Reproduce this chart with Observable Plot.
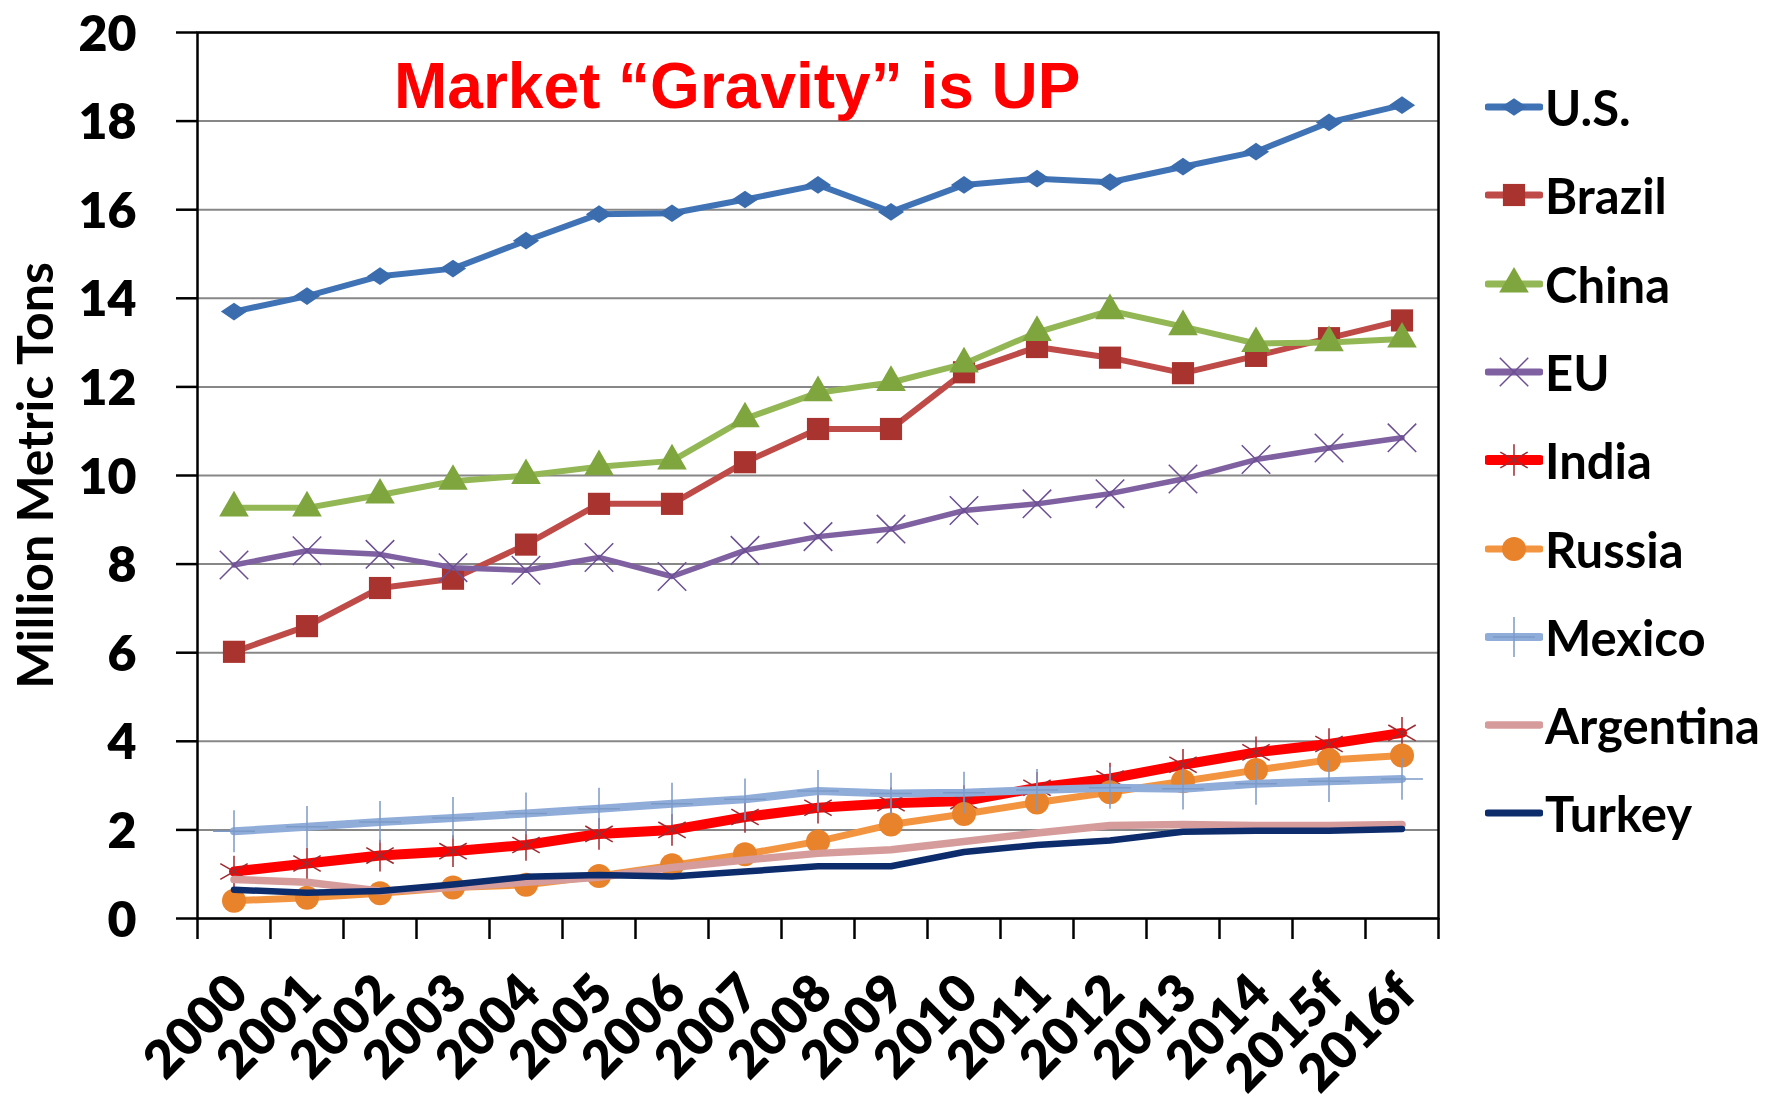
<!DOCTYPE html>
<html><head><meta charset="utf-8">
<script src="https://cdn.jsdelivr.net/npm/d3@7"></script>
<script src="https://cdn.jsdelivr.net/npm/@observablehq/plot@0.6"></script>
<style>
html,body{margin:0;padding:0;background:#fff;}
#wrap{position:relative;width:1777px;height:1103px;overflow:hidden;background:#fff;}
#chart{position:absolute;left:0;top:0;}
#title{position:absolute;left:394px;top:54px;font:bold 64px "Liberation Sans",Arial,sans-serif;color:#ff0000;line-height:64px;white-space:nowrap;}
#legend{position:absolute;left:1485px;top:0;width:292px;height:1103px;}
.row{position:absolute;left:0;display:flex;align-items:center;height:60px;white-space:nowrap;}
.row span{font:700 49px Lato,sans-serif;color:#000;margin-left:2px;}
</style></head>
<body><div id="wrap"><div id="chart"></div><div id="title">Market “Gravity” is UP</div><div id="legend"></div></div>
<script>
// ---- data ----
const years = ["2000","2001","2002","2003","2004","2005","2006","2007","2008","2009","2010","2011","2012","2013","2014","2015f","2016f"];
const seriesNames = ["U.S.","Brazil","China","EU","India","Russia","Mexico","Argentina","Turkey"];
const us        = [13.7,14.05,14.5,14.67,15.3,15.9,15.92,16.23,16.56,15.95,16.56,16.7,16.62,16.97,17.31,17.97,18.36];
const brazil    = [6.02,6.6,7.46,7.67,8.44,9.36,9.36,10.3,11.05,11.05,12.33,12.9,12.66,12.31,12.7,13.1,13.5];
const china     = [9.27,9.27,9.56,9.87,10.0,10.2,10.33,11.28,11.87,12.1,12.52,13.23,13.72,13.36,12.98,13.0,13.08];
const eu        = [7.98,8.3,8.22,7.92,7.86,8.15,7.72,8.31,8.62,8.79,9.21,9.36,9.59,9.92,10.36,10.62,10.85];
const india     = [1.06,1.24,1.42,1.52,1.66,1.91,2.0,2.29,2.5,2.6,2.65,2.95,3.16,3.47,3.75,3.94,4.19];
const russia    = [0.4,0.47,0.57,0.7,0.76,0.96,1.2,1.45,1.74,2.12,2.36,2.62,2.85,3.1,3.35,3.58,3.68];
const mexico    = [1.97,2.07,2.18,2.27,2.37,2.48,2.59,2.69,2.88,2.82,2.84,2.9,2.95,2.93,3.04,3.1,3.15];
const argentina = [0.88,0.82,0.62,0.7,0.82,0.93,1.15,1.32,1.47,1.55,1.74,1.93,2.1,2.12,2.1,2.1,2.12];
const turkey    = [0.65,0.58,0.62,0.77,0.94,0.98,0.95,1.06,1.18,1.18,1.5,1.66,1.76,1.96,1.98,1.98,2.02];
const seriesValues = [us, brazil, china, eu, india, russia, mexico, argentina, turkey];
const yTicks = [0,2,4,6,8,10,12,14,16,18,20];
const yLabel = "Million Metric Tons";

// ---- styles ----
const wideDiamond = {draw(ctx, size){const s=Math.sqrt(size);const w=s*0.74,h=s*0.5;ctx.moveTo(-w,0);ctx.lineTo(0,-h);ctx.lineTo(w,0);ctx.lineTo(0,h);ctx.closePath();}};
const styles = {
  "U.S.":     {line:"#4073b6", lw:6,   sym:wideDiamond,      fill:"#3a6cae", stroke:"none",    r:10},
  "Brazil":   {line:"#bf4b48", lw:6,   sym:d3.symbolSquare,  fill:"#a8332f", stroke:"none",    r:12.5},
  "China":    {line:"#93b755", lw:6,   sym:d3.symbolTriangle,fill:"#7fa53e", stroke:"none",    r:11},
  "EU":       {line:"#7f60a1", lw:5.5, sym:d3.symbolTimes,   fill:"none",    stroke:"#6c4f93", r:13, sw:1.5},
  "India":    {line:"#ff0000", lw:10,  sym:d3.symbolAsterisk,fill:"none",    stroke:"#9e2a30", r:15, sw:1.5},
  "Russia":   {line:"#f29440", lw:7,   sym:d3.symbolCircle,  fill:"#e8832c", stroke:"none",    r:12},
  "Mexico":   {line:"#90acd8", lw:8,   sym:d3.symbolPlus,    fill:"none",    stroke:"#7c9ac8", r:13.5, sw:1.5},
  "Argentina":{line:"#d59c9b", lw:7.5, sym:null},
  "Turkey":   {line:"#0d2c6c", lw:6.5, sym:null}
};

const rows = seriesNames.map((name, k) => seriesValues[k].map((v, i) => ({name, i, value: v})));
const xCenters = years.map((_, i) => i);
const xBounds = d3.range(years.length + 1).map(i => i - 0.5);

const seriesMarks = seriesNames.flatMap((name, k) => {
  const st = styles[name];
  const m = [Plot.line(rows[k], {x:"i", y:"value", stroke: st.line, strokeWidth: st.lw, strokeLinecap:"round", strokeLinejoin:"round"})];
  if (st.sym) m.push(Plot.dot(rows[k], {x:"i", y:"value", symbol: st.sym, r: st.r, fill: st.fill, stroke: st.stroke, strokeWidth: st.sw || 1}));
  return m;
});

const chart = Plot.plot({
  width: 1777, height: 1103,
  marginLeft: 197, marginRight: 339, marginTop: 32, marginBottom: 185,
  x: {type: "linear", domain: [-0.5, years.length - 0.5]},
  y: {type: "linear", domain: [0, 20]},
  style: {fontFamily: "Lato, sans-serif", fontWeight: 700, color: "#000", background: "#fff", overflow: "visible"},
  marks: [
    Plot.gridY(yTicks, {stroke: "#878787", strokeOpacity: 1, strokeWidth: 2}),
    ...seriesMarks,
    Plot.axisY(yTicks, {tickSize: 21, strokeWidth: 2.5, tickFormat: () => "", label: null}),
    Plot.axisY(yTicks, {tickSize: 0, tickPadding: 61, dy: 2, fontSize: 50, fontWeight: 800, label: null}),
    Plot.axisX(xCenters, {tickSize: 0, tickRotate: -45, tickPadding: 66, dx: 5, fontSize: 52, fontWeight: 800, tickFormat: i => years[i], label: null}),
    Plot.axisX(xBounds, {tickSize: 21, strokeWidth: 2.5, tickFormat: () => "", label: null}),
    Plot.frame({stroke: "#000", strokeWidth: 2.5}),
    Plot.text([yLabel], {frameAnchor: "left", textAnchor: "middle", rotate: -90, dx: -161, fontSize: 50, fontWeight: 700, fill: "#000"})
  ]
});
document.getElementById("chart").appendChild(chart);

// ---- legend ----
const legend = d3.select("#legend");
seriesNames.forEach((name, k) => {
  const st = styles[name];
  const row = legend.append("div").attr("class", "row").style("top", (107 + k * 88.3 - 30) + "px");
  const svg = row.append("svg").attr("width", 58).attr("height", 40);
  svg.append("line").attr("x1", 3).attr("x2", 55).attr("y1", 20).attr("y2", 20)
    .attr("stroke", st.line).attr("stroke-width", Math.max(st.lw, 7)).attr("stroke-linecap", "round");
  if (st.sym) {
    svg.append("path").attr("transform", "translate(29,20)")
      .attr("d", d3.symbol(st.sym, Math.PI * st.r * st.r)())
      .attr("fill", st.fill).attr("stroke", st.stroke).attr("stroke-width", st.sw || 1);
  }
  row.append("span").text(name);
});
</script>
</body></html>
